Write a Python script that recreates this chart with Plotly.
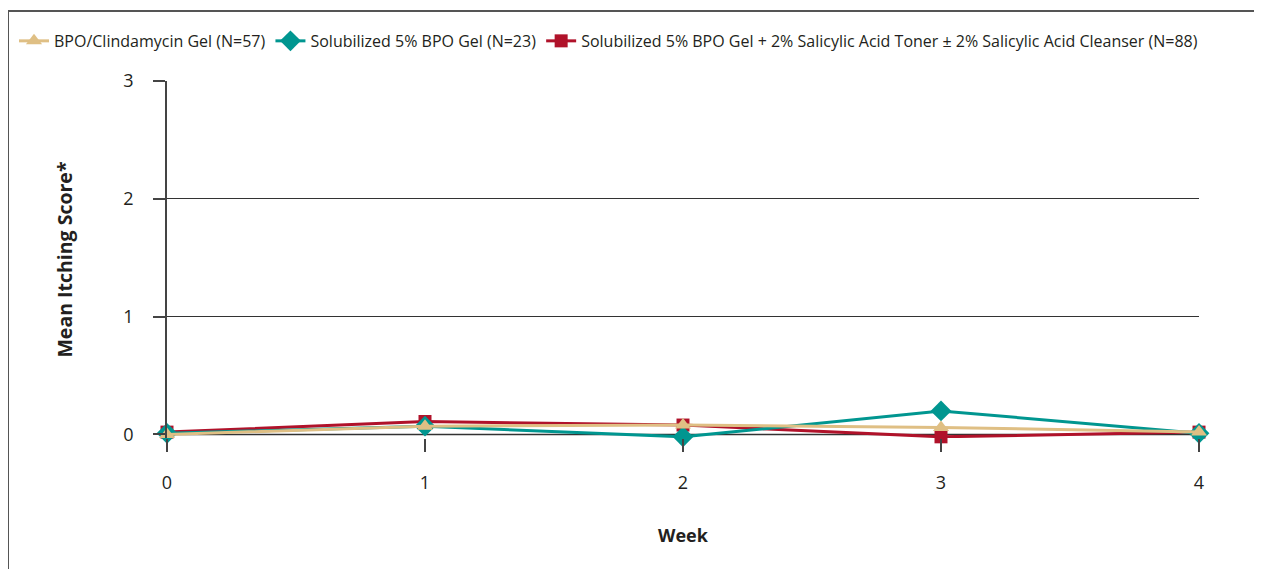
import plotly.graph_objects as go

weeks = [0, 1, 2, 3, 4]
week_ticks = ["0", "1", "2", "3", "4"]
bpo_clinda = [0.0, 0.07, 0.08, 0.06, 0.02]
sol_bpo = [0.01, 0.07, -0.02, 0.20, 0.01]
sol_bpo_sa = [0.02, 0.11, 0.08, -0.02, 0.02]

names = [
    "BPO/Clindamycin Gel (N=57)",
    "Solubilized 5% BPO Gel (N=23)",
    "Solubilized 5% BPO Gel + 2% Salicylic Acid Toner ± 2% Salicylic Acid Cleanser (N=88)",
]

FONT = "Open Sans"
TXT = "#231f20"
OFF = 8  # page body margin
YMIN = -0.03
UNIT = (434 - 81) / 3.0

W, H = 1262 - OFF, 569 - OFF
L = 167 - OFF
T = 81 - OFF
R = W - (1199 - OFF)
BOT = 434 + (-YMIN) * UNIT          # screen y of plot bottom
B = H - (BOT - OFF)
pw, ph = W - L - R, H - T - B

def px(x):
    return (x - OFF - L) / pw

def py(y):
    return (H - B - (y - OFF)) / ph

fig = go.Figure()
fig.add_trace(go.Scatter(x=weeks, y=sol_bpo_sa, name=names[2], mode="lines+markers",
                         line=dict(color="#b0122a", width=3),
                         marker=dict(symbol="square", size=13, color="#b0122a"),
                         cliponaxis=False))
fig.add_trace(go.Scatter(x=weeks, y=sol_bpo, name=names[1], mode="lines+markers",
                         line=dict(color="#009690", width=3),
                         marker=dict(symbol="diamond", size=16, color="#009690"),
                         cliponaxis=False))
fig.add_trace(go.Scatter(x=weeks, y=bpo_clinda, name=names[0], mode="lines+markers",
                         line=dict(color="#dfbf84", width=3),
                         marker=dict(symbol="triangle-up", size=14, color="#dfbf84"),
                         cliponaxis=False))

fig.update_layout(
    width=W, height=H,
    margin=dict(l=L, r=R, t=T, b=B, autoexpand=False),
    paper_bgcolor="white", plot_bgcolor="white",
    font=dict(family=FONT, color=TXT, size=16),
    showlegend=True,
    legend=dict(orientation="h", traceorder="reversed", x=px(14), xanchor="left",
                y=py(41), yanchor="middle", font=dict(size=16, family=FONT, color=TXT),
                bgcolor="rgba(0,0,0,0)"),
    xaxis=dict(range=[0, 4], tickvals=weeks, ticktext=week_ticks, showgrid=False,
               zeroline=False, showline=False, ticks="outside", ticklen=12.5,
               tickwidth=1.5, tickcolor="#444", tickfont=dict(size=18, color=TXT),
               ticklabelstandoff=16,
               title=dict(text="<b>Week</b>", font=dict(size=18, color=TXT), standoff=36)),
    yaxis=dict(range=[YMIN, 3], tickvals=[0, 1, 2, 3], showgrid=True, gridcolor="#333",
               gridwidth=1.2, zeroline=False, showline=True, linecolor="#444", linewidth=1.5,
               ticks="outside", ticklen=12, tickwidth=1.5, tickcolor="#444",
               tickfont=dict(size=18, color=TXT), ticklabelstandoff=16,
               title=dict(text="<b>Mean Itching Score*</b>", font=dict(size=19.5, color=TXT),
                          standoff=46)),
    shapes=[
        dict(type="line", xref="paper", yref="paper", x0=px(8), x1=px(8), y0=py(11), y1=py(580),
             line=dict(color="#555", width=2)),
        dict(type="line", xref="paper", yref="paper", x0=px(8), x1=px(1280), y0=py(11), y1=py(11),
             line=dict(color="#555", width=2)),
        dict(type="line", xref="paper", yref="y", x0=0, x1=1, y0=0, y1=0,
             line=dict(color="#333", width=1.5), layer="below"),
    ],
)

fig.write_html("out.html")
